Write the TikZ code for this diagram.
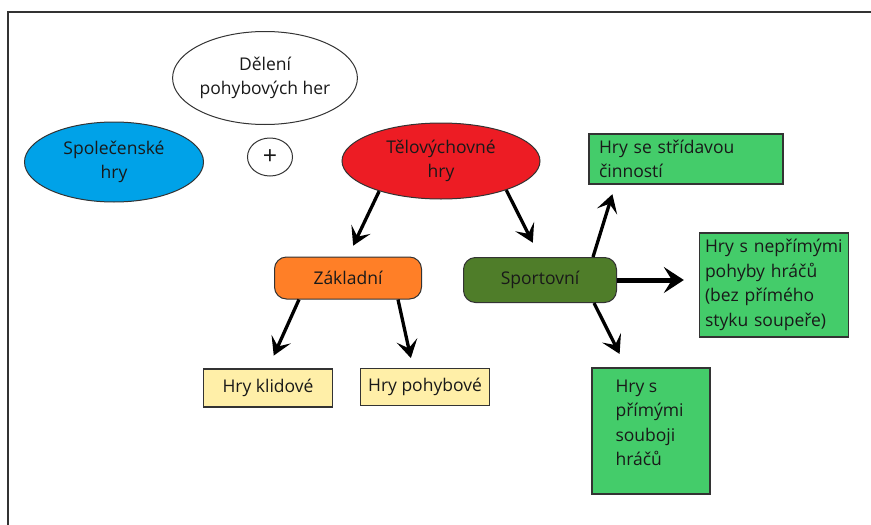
\documentclass[tikz,border=0pt]{standalone}
\usepackage{fontspec}
\setmainfont{Open Sans}
\usepackage{tikz}
\usetikzlibrary{shapes.geometric,arrows.meta}
\definecolor{spol}{HTML}{00A2E8}
\definecolor{telo}{HTML}{ED1C24}
\definecolor{zakl}{HTML}{FF7F27}
\definecolor{sport}{HTML}{4F7D29}
\definecolor{leaf}{HTML}{44CC6A}
\definecolor{pale}{HTML}{FFEFA8}
\definecolor{edge}{HTML}{333333}

\begin{document}
\begin{tikzpicture}[
  x=1pt,y=-1pt,
  every node/.style={font=\fontsize{17.5}{24.5}\selectfont,text=black!90},
  oval/.style={ellipse,draw=edge,line width=1pt,inner sep=0pt,align=center},
  pill/.style={rectangle,rounded corners=12pt,draw=edge,line width=1pt,inner sep=0pt},
  box/.style={rectangle,draw=edge,line width=1.3pt,inner sep=0pt},
  card/.style={box,fill=leaf,align=left,text width=#1},
  arrow/.style={-{Stealth[length=18pt,width=21pt,inset=8pt]},line width=3.3pt},
  bigarrow/.style={-{Stealth[length=20pt,width=26pt,inset=8pt]},line width=5pt}
]
  \useasboundingbox (0,0) rectangle (871,525);
  \draw[line width=1.5pt,edge] (871,12) -- (8,12) -- (8,525);

  \node[oval,minimum width=175pt,minimum height=93pt] (del) at (265,78) {D\v{e}len\'{\i}\\pohybov\'{y}ch her};
  \node[oval,fill=spol,minimum width=179pt,minimum height=80pt] (spo) at (114,162) {Spole\v{c}ensk\'{e}\\hry};
  \node[oval,minimum width=45pt,minimum height=38pt,font=\fontsize{25}{25}\selectfont] (plus) at (270,157) {+};
  \node[oval,fill=telo,minimum width=198pt,minimum height=76pt] (tel) at (441,161) {T\v{e}lov\'{y}chovn\'{e}\\hry};

  \node[pill,fill=zakl,minimum width=147pt,minimum height=42pt] (zak) at (348,278) {Z\'{a}kladn\'{\i}};
  \node[pill,fill=sport,minimum width=153pt,minimum height=45pt] (spt) at (540,280) {Sportovn\'{\i}};

  \node[box,fill=pale,minimum width=129pt,minimum height=38pt] (kli) at (268,388) {Hry klidov\'{e}};
  \node[box,fill=pale,minimum width=129pt,minimum height=37pt] (poh) at (425,387) {Hry pohybov\'{e}};

  \node[card=174pt,inner xsep=10pt,minimum height=50pt] (str) at (686,159) {Hry se st\v{r}\'{\i}davou\\\v{c}innost\'{\i}};
  \node[card=138pt,inner xsep=5.5pt,minimum height=104pt] (nep) at (774,285) {Hry s nep\v{r}\'{\i}m\'{y}mi\\pohyby hr\'{a}\v{c}\r{u}\\(bez p\v{r}\'{\i}m\'{e}ho\\styku soupe\v{r}e)};
  \node[box,fill=leaf,minimum width=118pt,minimum height=126pt] (pri) at (651,431) {};
  \node[align=left,anchor=north west] (prit) at (612,376) {Hry s\\p\v{r}\'{\i}m\'{y}mi\\souboji\\hr\'{a}\v{c}\r{u}};

  \draw[arrow,shorten >=12pt] (tel.206) -- (zak.north);
  \draw[arrow,shorten >=16pt] (tel.336) -- (spt.north);
  \draw[arrow,shorten >=14pt] ([xshift=25pt]zak.south west) -- (kli.north);
  \draw[arrow,shorten >=10pt] ([xshift=-24pt]zak.south east) -- ([xshift=-12pt]poh.north);
  \draw[arrow,shorten >=10pt] ([xshift=-24pt]spt.north east) -- ([xshift=27pt]str.south west);
  \draw[bigarrow,shorten >=15pt] (spt.east) -- (spt.east -| nep.west);
  \draw[arrow,shorten >=15pt] ([xshift=-23pt]spt.south east) -- ([xshift=35pt]pri.north west);
\end{tikzpicture}
\end{document}
